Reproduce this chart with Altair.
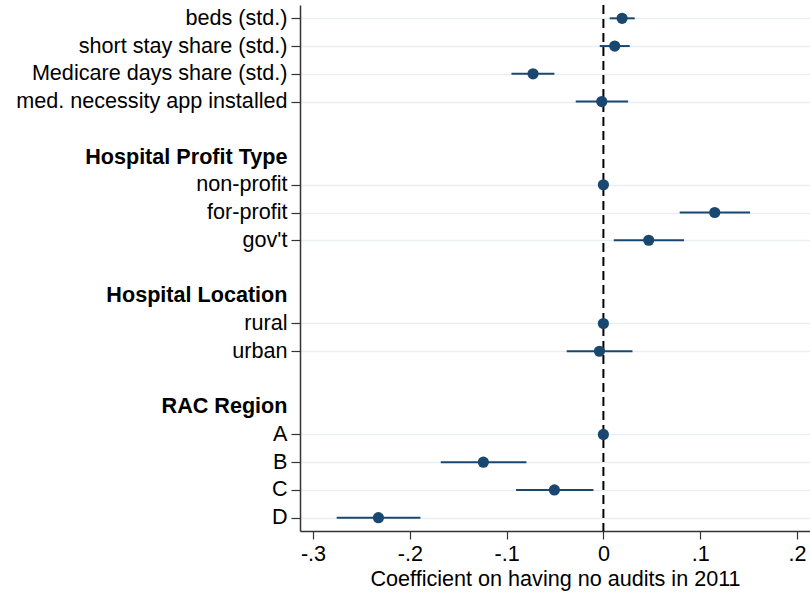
import altair as alt
import pandas as pd
import json

# ---- data ----
row_labels = [
    "beds (std.)", "short stay share (std.)", "Medicare days share (std.)",
    "med. necessity app installed", "",
    "Hospital Profit Type", "non-profit", "for-profit", "gov't", "",
    "Hospital Location", "rural", "urban", "",
    "RAC Region", "A", "B", "C", "D",
]
header_rows = [5, 10, 14]
item_rows = [0, 1, 2, 3, 6, 7, 8, 11, 12, 15, 16, 17, 18]
coef = [0.0193, 0.0117, -0.0727, -0.0017, 0.0, 0.115, 0.0468, 0.0,
        -0.0041, 0.0, -0.124, -0.0506, -0.2324]
ci_low = [0.0065, -0.0038, -0.095, -0.0286, None, 0.0788, 0.0107, None,
          -0.0379, None, -0.168, -0.0902, -0.2755]
ci_high = [0.0323, 0.0272, -0.0506, 0.0255, None, 0.1515, 0.0833, None,
           0.030, None, -0.0795, -0.0103, -0.189]
x_ticks = [-0.3, -0.2, -0.1, 0.0, 0.1, 0.2]

df = pd.DataFrame({"row": item_rows, "coef": coef, "lo": ci_low, "hi": ci_high})
zero_df = pd.DataFrame({"x": [0.0]})

NAVY = "#1a476f"
FONT = "Liberation Sans"
FS = 21.6

x_scale = alt.Scale(domain=[-0.3134, 0.2134], nice=False, zero=False)
y_scale = alt.Scale(domain=[-0.48, 18.48], reverse=True, nice=False, zero=False)

hdr_test = "indexof(" + json.dumps(header_rows) + ", datum.value) >= 0"

x_axis = alt.Axis(
    values=x_ticks,
    labelExpr="datum.value == 0 ? '0' : (datum.value < 0 ? '-' : '') + '.' + round(abs(datum.value) * 10)",
    grid=False,
    title="Coefficient on having no audits in 2011",
    titleFont=FONT, titleFontSize=FS, titleFontWeight="normal", titleColor="black",
    titlePadding=4, titleLimit=0,
    labelFont=FONT, labelFontSize=FS, labelColor="black", labelPadding=4,
    tickSize=8, tickColor="#333333", tickWidth=1.2,
    domainColor="#333333", domainWidth=1.5,
)

y_axis = alt.Axis(
    values=header_rows + item_rows,
    labelExpr=json.dumps(row_labels) + "[datum.value]",
    title=None,
    grid=True, gridColor="#e8eff2", gridWidth=1.5,
    gridOpacity={"condition": {"test": hdr_test, "value": 0}, "value": 1},
    tickOpacity={"condition": {"test": hdr_test, "value": 0}, "value": 1},
    labelFontWeight={"condition": {"test": hdr_test, "value": "bold"}, "value": "normal"},
    labelFont=FONT, labelFontSize=FS, labelColor="black", labelPadding=4,
    labelLimit=0,
    tickSize=9, tickColor="#333333", tickWidth=1.2,
    domainColor="#333333", domainWidth=1.5,
)

zero_line = alt.Chart(zero_df).mark_rule(
    color="black", strokeWidth=2, strokeDash=[9, 5]
).encode(x=alt.X("x:Q", scale=x_scale, axis=x_axis))

ci = alt.Chart(df).transform_filter("isValid(datum.lo)").mark_rule(
    color=NAVY, strokeWidth=2
).encode(
    x=alt.X("lo:Q", scale=x_scale, axis=x_axis),
    x2="hi:Q",
    y=alt.Y("row:Q", scale=y_scale, axis=y_axis),
)

pts = alt.Chart(df).mark_circle(color=NAVY, size=125, opacity=1).encode(
    x=alt.X("coef:Q", scale=x_scale, axis=x_axis),
    y=alt.Y("row:Q", scale=y_scale, axis=y_axis),
)

chart = alt.layer(zero_line, ci, pts).properties(
    width=510, height=526,
    autosize=alt.AutoSizeParams(type="none"),
    padding={"left": 300, "top": 5, "right": 0, "bottom": 63},
    background="white",
).configure_view(strokeWidth=0)

chart.save("out.html", embed_options={"renderer": "svg", "actions": False})
